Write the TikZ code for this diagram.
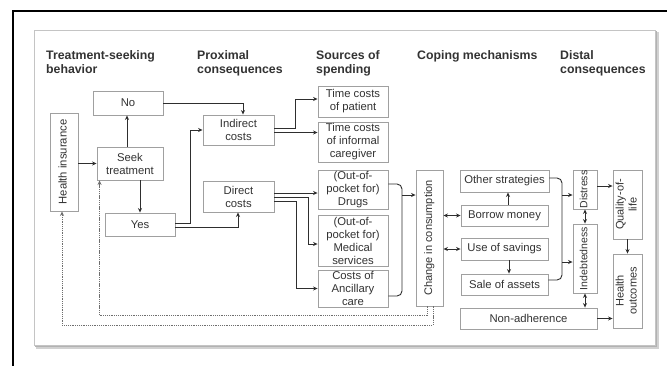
\documentclass[tikz,border=0pt]{standalone}
\usepackage{fontspec}
\setmainfont{Liberation Sans}
\usepackage{graphicx}
\usetikzlibrary{arrows.meta,calc}
\definecolor{boxgray}{HTML}{A0A0A0}
\definecolor{txtcol}{HTML}{333333}
\definecolor{lncol}{HTML}{2E2E2E}
\definecolor{dotcol}{HTML}{6E6E6E}
\definecolor{framecol}{HTML}{C4C4C4}
\newcommand{\vtext}[1]{\rotatebox{90}{\begin{tabular}{@{}c@{}}#1\end{tabular}}}
\begin{document}
\begin{tikzpicture}[x=1pt,y=-1pt,
  box/.style={draw=boxgray,line width=0.9pt,text=txtcol,inner sep=0pt,align=center,font=\fontsize{11.3}{13}\selectfont},
  hdr/.style={anchor=north west,inner sep=0pt,align=left,text=txtcol,font=\fontsize{12.3}{14}\selectfont\bfseries},
  plain/.style={draw=lncol,line width=0.9pt},
  arr/.style={plain,-{Stealth[length=4.5pt,width=4pt]}},
  darr/.style={plain,{Stealth[length=4.5pt,width=4pt]}-{Stealth[length=4.5pt,width=4pt]}},
  fb/.style={draw=dotcol,line width=0.8pt,dash pattern=on 1.3pt off 0.9pt,-{Stealth[length=4.5pt,width=4pt]}}
]
\useasboundingbox (0,0) rectangle (667,365);
\fill[white] (0,0) rectangle (667,365);
% outer frame lines
\draw[line width=1.3pt] (13,366) -- (13,11) -- (668,11);
% inner panel with shadow
\fill[black!18] (36,32) rectangle (659,349);
\fill[black!30] (35,31) rectangle (657,347);
\draw[draw=framecol,fill=white,line width=0.8pt] (34,30) rectangle (655,345);

% headers
\node[hdr] (h1) at (46,50) {Treatment-seeking\\behavior};
\node[hdr] (h2) at (197,50) {Proximal\\consequences};
\node[hdr] (h3) at (316,50) {Sources of\\spending};
\node[hdr] (h4) at (417,50) {Coping mechanisms};
\node[hdr] (h5) at (560,50) {Distal\\consequences};

% boxes
\node[box,minimum width=70pt,minimum height=24pt] (no) at (128,103) {No};
\node[box,minimum width=28pt,minimum height=98pt] (hi) at (64,162) {\vtext{Health insurance}};
\node[box,minimum width=66pt,minimum height=33pt] (seek) at (130,163.5) {Seek\\treatment};
\node[box,minimum width=70pt,minimum height=23pt] (yes) at (140,224.5) {Yes};
\node[box,minimum width=71pt,minimum height=30pt] (ind) at (238.5,130) {Indirect\\costs};
\node[box,minimum width=71pt,minimum height=31pt] (dir) at (238.5,196.5) {Direct\\costs};
\node[box,minimum width=70pt,minimum height=31pt] (pat) at (353,101.5) {Time costs\\of patient};
\node[box,minimum width=70pt,minimum height=40pt] (cg) at (353,142) {Time costs\\of informal\\caregiver};
\node[box,minimum width=70pt,minimum height=39pt] (drugs) at (353,189.5) {(Out-of-\\pocket for)\\Drugs};
\node[box,minimum width=70pt,minimum height=51pt] (med) at (353,240.5) {(Out-of-\\pocket for)\\Medical\\services};
\node[box,minimum width=70pt,minimum height=37pt] (anc) at (353,288.5) {Costs of\\Ancillary\\care};
\node[box,minimum width=27pt,minimum height=136pt,font=\fontsize{11}{13}\selectfont] (chg) at (429.5,238) {\vtext{Change in consumption}};
\node[box,minimum width=89pt,minimum height=22pt] (oth) at (504.5,181) {Other strategies};
\node[box,minimum width=87pt,minimum height=21pt] (bor) at (504.5,215.5) {Borrow money};
\node[box,minimum width=87pt,minimum height=22pt] (sav) at (504.5,249) {Use of savings};
\node[box,minimum width=87pt,minimum height=21pt] (sale) at (504.5,284.5) {Sale of assets};
\node[box,minimum width=137pt,minimum height=21pt] (nonad) at (528.5,318.5) {Non-adherence};
\node[box,minimum width=24pt,minimum height=39pt,font=\fontsize{10.5}{12}\selectfont] (dis) at (585,189.5) {\vtext{Distress}};
\node[box,minimum width=24pt,minimum height=69pt,font=\fontsize{10.5}{12}\selectfont] (indb) at (585,258.5) {\vtext{Indebtedness}};
\node[box,minimum width=29pt,minimum height=69pt,font=\fontsize{11}{13}\selectfont] (qol) at (627.5,204.5) {\vtext{Quality-of-\\life}};
\node[box,minimum width=29pt,minimum height=74pt,font=\fontsize{11}{13}\selectfont] (ho) at (627.5,291) {\vtext{Health\\outcomes}};

% connectors: treatment-seeking
\draw[arr] ([xshift=-3pt]seek.north) -- ([xshift=-3pt]seek.north |- no.south);
\draw[arr] (seek.south -| yes.north) -- (yes.north);
\draw[arr] (hi.east |- seek.west) -- (seek.west);
\draw[arr] (no.east) -| ([xshift=4.5pt]ind.north);
\draw[arr] ([yshift=1.5pt]yes.east) -- ++(15,0) |- (ind.west);
\draw[arr] ([yshift=-2.5pt]yes.east) -| ([xshift=-0.5pt]dir.south);

% proximal -> sources
\draw[arr] ([yshift=2pt]ind.east) -- ++(21,0) |- ([yshift=2.5pt]pat.west);
\draw[arr] ([yshift=-2.5pt]ind.east) -- ([yshift=-2.5pt]ind.east -| cg.west);
\draw[arr] ([yshift=3.5pt]dir.east) -- ([yshift=3.5pt]dir.east -| drugs.west);
\draw[arr] ([yshift=-0.5pt]dir.east) -- ++(34,0) |- ([yshift=-3.5pt]med.west);
\draw[arr] ([yshift=-4.5pt]dir.east) -- ++(22,0) |- (anc.west);

% brace to change in consumption
\coordinate (b1) at (402,195);
\draw[plain,rounded corners=5pt] ([yshift=5.5pt]drugs.east) -| (b1) |- ([yshift=-7.5pt]anc.east);
\draw[arr] (b1) -- (b1 -| chg.west);

% coping
\draw[darr] (chg.east |- bor.west) -- (bor.west);
\draw[darr] (chg.east |- sav.west) -- (sav.west);
\draw[arr] ([xshift=3.5pt]bor.north) -- ([xshift=3.5pt]bor.north |- oth.south);
\draw[arr] ([xshift=4.5pt]sav.south) -- ([xshift=4.5pt]sav.south |- sale.north);

% brace to distal
\coordinate (b2) at (562,195);
\coordinate (b3) at (562,262);
\draw[plain,rounded corners=5pt] ([yshift=3pt]oth.east) -| (b2) -- (b3) |- ([yshift=4.5pt]sale.east);
\draw[arr] (b2) -- (b2 -| dis.west);
\draw[arr] (b3) -- (b3 -| indb.west);

% distal
\draw[arr] ([yshift=3.5pt]dis.east) -- ([yshift=3.5pt]dis.east -| qol.west);
\draw[darr] (dis.south) -- (indb.north);
\draw[darr] (indb.south) -- (indb.south |- nonad.north);
\draw[arr] (qol.south) -- (ho.north);
\draw[arr] (nonad.east) -- (nonad.east -| ho.west);

% feedback
\draw[fb] ([xshift=3.5pt]chg.south) -- ++(0,19) -| ([xshift=-2pt]hi.south);
\draw[fb] ([xshift=-2.5pt]chg.south) -- ++(0,9) -| ([xshift=3pt]seek.south west);
\end{tikzpicture}
\end{document}
